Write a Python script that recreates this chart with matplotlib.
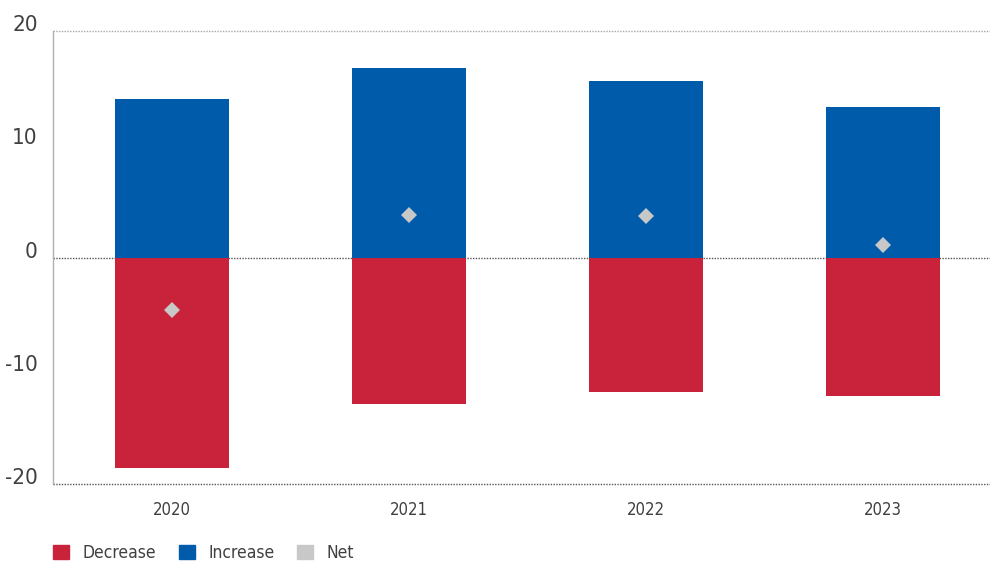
import matplotlib
matplotlib.use("Agg")
import matplotlib.pyplot as plt
from matplotlib.patches import Patch
import numpy as np

plt.rcParams["font.family"] = ["DejaVu Sans"]
plt.rcParams["font.stretch"] = "condensed"
plt.rcParams["axes.unicode_minus"] = False

# Dados por ano
anos = ["2020", "2021", "2022", "2023"]
aumento = [14.0, 16.7, 15.55, 13.25]
reducao = [-18.6, -12.95, -11.9, -12.2]
liquido = [-4.6, 3.8, 3.7, 1.1]

cor_reducao = "#C8233A"
cor_aumento = "#005BAA"
cor_liquido = "#C8C8C8"
cor_texto = "#404040"

fig = plt.figure(figsize=(9.9, 5.63), dpi=100)
ax = fig.add_axes([53 / 990, 0.140, 1 - 53 / 990, 0.945 - 0.140])

x = np.arange(len(anos))
ax.bar(x, aumento, width=0.48, color=cor_aumento, zorder=2)
ax.bar(x, reducao, width=0.48, color=cor_reducao, zorder=2)
ax.plot(x, liquido, linestyle="none", marker="D", markersize=8,
        color=cor_liquido, markeredgewidth=0, zorder=3)

ax.set_xlim(-0.5, 3.45)
ax.set_ylim(-20, 20)
ax.set_xticks(x)
ax.set_xticklabels(anos)
ax.set_yticks([-20, -10, 0, 10, 20])
ax.tick_params(axis="y", length=0, pad=11, labelsize=16, labelcolor=cor_texto)
ax.tick_params(axis="x", length=0, pad=12, labelsize=12, labelcolor=cor_texto)
plt.setp(ax.get_yticklabels(), va="baseline")

# Linhas pontilhadas
for s in ["top", "right", "bottom"]:
    ax.spines[s].set_visible(False)
ax.spines["left"].set_linestyle((0, (1, 1)))
ax.spines["left"].set_color("#b0b0b0")
ax.spines["left"].set_linewidth(1.0)
ax.axhline(20, color="#a8a8a8", linestyle=(0, (1, 1)), linewidth=1.0, zorder=1, clip_on=False)
ax.axhline(0, color="#555555", linestyle=(0, (1, 1)), linewidth=1.0, zorder=1)
ax.axhline(-20, color="#555555", linestyle=(0, (1, 1)), linewidth=1.0, zorder=1, clip_on=False)

handles = [Patch(color=cor_reducao, label="Decrease"),
           Patch(color=cor_aumento, label="Increase"),
           Patch(color=cor_liquido, label="Net")]
leg = fig.legend(handles=handles, loc="center left", bbox_to_anchor=(53 / 990, 1 - 553 / 563),
                 ncol=3, frameon=False, fontsize=12.5, handlelength=0.92, handleheight=0.92,
                 handletextpad=0.8, columnspacing=1.27, borderpad=0, borderaxespad=0)
for t in leg.get_texts():
    t.set_color(cor_texto)

fig.savefig("out.png", dpi=100)
